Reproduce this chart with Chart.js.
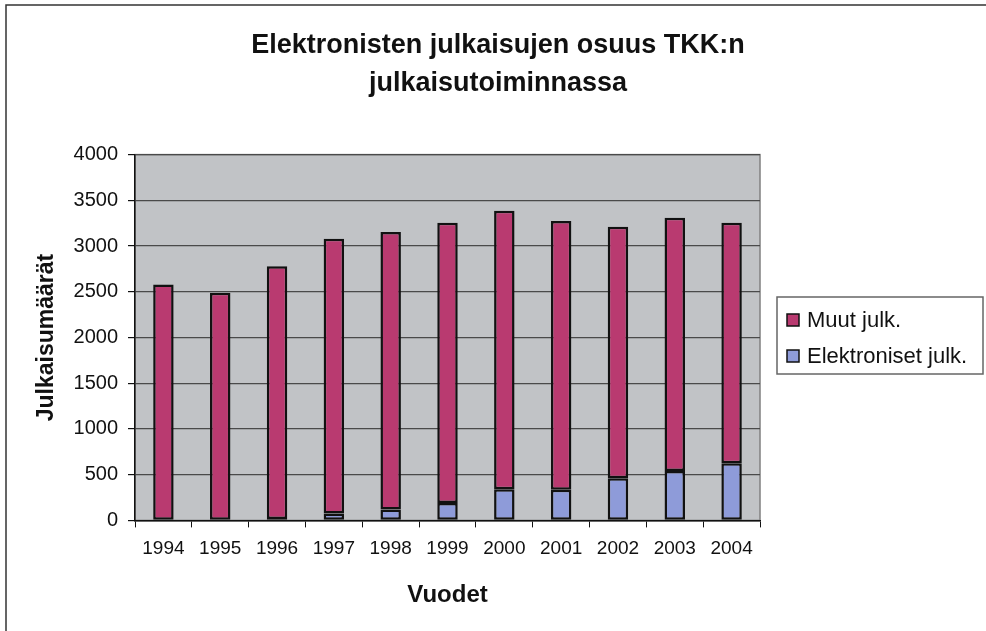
<!DOCTYPE html>
<html>
<head>
<meta charset="utf-8">
<script src="https://cdn.jsdelivr.net/npm/chart.js@4.4.1/dist/chart.umd.min.js"></script>
<style>
  html, body { margin: 0; padding: 0; background: #ffffff; }
  #wrap { position: relative; width: 986px; height: 631px; }
</style>
</head>
<body>
<div id="wrap"><canvas id="chart" width="986" height="631"></canvas></div>
<script>
// Data
const years = ['1994', '1995', '1996', '1997', '1998', '1999', '2000', '2001', '2002', '2003', '2004'];
const elektroniset = [0, 0, 15, 75, 120, 190, 340, 335, 460, 540, 625];
const muut = [2580, 2490, 2765, 3005, 3035, 3065, 3045, 2940, 2750, 2770, 2630];
const yTicks = [0, 500, 1000, 1500, 2000, 2500, 3000, 3500, 4000];

const FONT = "'Liberation Sans', Arial, sans-serif";

// Grey plot background and the outer frame lines
const backdrop = {
  id: 'backdrop',
  beforeDraw(chart) {
    const { ctx, chartArea: a } = chart;
    ctx.save();
    ctx.strokeStyle = '#333333';
    ctx.lineWidth = 1.5;
    ctx.beginPath();
    ctx.moveTo(6, 631);
    ctx.lineTo(6, 5);
    ctx.lineTo(986, 5);
    ctx.stroke();
    ctx.fillStyle = '#c1c3c6';
    ctx.fillRect(a.left, a.top, a.right - a.left, a.bottom - a.top);
    ctx.strokeStyle = '#808080';
    ctx.strokeRect(a.left, a.top, a.right - a.left, a.bottom - a.top);
    ctx.restore();
  }
};

// Boxed legend to the right of the plot, last dataset listed first
const boxLegend = {
  id: 'boxLegend',
  afterDraw(chart) {
    const { ctx, chartArea: a } = chart;
    const sets = chart.data.datasets.slice().reverse();
    const left = a.right + 17;
    const top = 297;
    const width = 206;
    const height = 77;
    ctx.save();
    ctx.strokeStyle = '#666666';
    ctx.lineWidth = 1.5;
    ctx.strokeRect(left, top, width, height);
    ctx.font = '22px ' + FONT;
    ctx.textBaseline = 'middle';
    sets.forEach((ds, i) => {
      const cy = top + 23 + i * 36;
      ctx.fillStyle = ds.backgroundColor;
      ctx.fillRect(left + 10, cy - 6, 12, 12);
      ctx.strokeStyle = '#111111';
      ctx.lineWidth = 1.5;
      ctx.strokeRect(left + 10, cy - 6, 12, 12);
      ctx.fillStyle = '#111111';
      ctx.fillText(ds.label, left + 30, cy + 1);
    });
    ctx.restore();
  }
};

new Chart(document.getElementById('chart').getContext('2d'), {
  type: 'bar',
  data: {
    labels: years,
    datasets: [
      {
        label: 'Elektroniset julk.',
        data: elektroniset,
        backgroundColor: '#8e9bd9',
        borderColor: '#111111',
        borderWidth: 2.5,
        borderSkipped: false,
        barPercentage: 0.36,
        categoryPercentage: 1.0
      },
      {
        label: 'Muut julk.',
        data: muut,
        backgroundColor: '#b93a70',
        borderColor: '#111111',
        borderWidth: 2.5,
        borderSkipped: false,
        barPercentage: 0.36,
        categoryPercentage: 1.0
      }
    ]
  },
  options: {
    responsive: false,
    animation: false,
    layout: { padding: { left: 22, right: 12, top: 0, bottom: 21 } },
    plugins: {
      title: {
        display: true,
        text: ['Elektronisten julkaisujen osuus TKK:n', 'julkaisutoiminnassa'],
        color: '#111111',
        font: { family: FONT, size: 27, weight: 'bold', lineHeight: 1.4 },
        padding: { top: 27, bottom: 52 }
      },
      legend: { display: false },
      tooltip: { enabled: false }
    },
    scales: {
      x: {
        stacked: true,
        offset: true,
        border: { color: '#111111', width: 1.5 },
        grid: {
          offset: true,
          drawOnChartArea: false,
          drawTicks: true,
          tickLength: 7,
          color: '#111111'
        },
        ticks: {
          color: '#111111',
          font: { family: FONT, size: 19 },
          padding: 10,
          maxRotation: 0,
          autoSkip: false
        },
        title: {
          display: true,
          text: 'Vuodet',
          color: '#111111',
          font: { family: FONT, size: 24, weight: 'bold' },
          padding: { top: 11, bottom: 0 }
        }
      },
      y: {
        stacked: true,
        min: 0,
        max: 4000,
        afterBuildTicks(axis) {
          axis.ticks = yTicks.map(v => ({ value: v }));
        },
        afterFit(axis) {
          axis.width = 113;
        },
        border: { color: '#111111', width: 1.5 },
        grid: {
          color: '#4a4a4a',
          lineWidth: 1.2,
          drawTicks: true,
          tickLength: 7,
          tickColor: '#111111'
        },
        ticks: {
          color: '#111111',
          font: { family: FONT, size: 20 },
          padding: 10,
          callback: v => String(v)
        },
        title: {
          display: true,
          text: 'Julkaisumäärät',
          color: '#111111',
          font: { family: FONT, size: 23, weight: 'bold' },
          padding: { top: 11, bottom: 0 }
        }
      },
      // empty right-hand axis that only reserves room for the boxed legend
      legendRoom: {
        type: 'linear',
        position: 'right',
        display: true,
        border: { display: false },
        grid: { drawOnChartArea: false, drawTicks: false },
        ticks: { display: false },
        afterFit(axis) {
          axis.width = 214;
        }
      }
    }
  },
  plugins: [backdrop, boxLegend]
});
</script>
</body>
</html>
